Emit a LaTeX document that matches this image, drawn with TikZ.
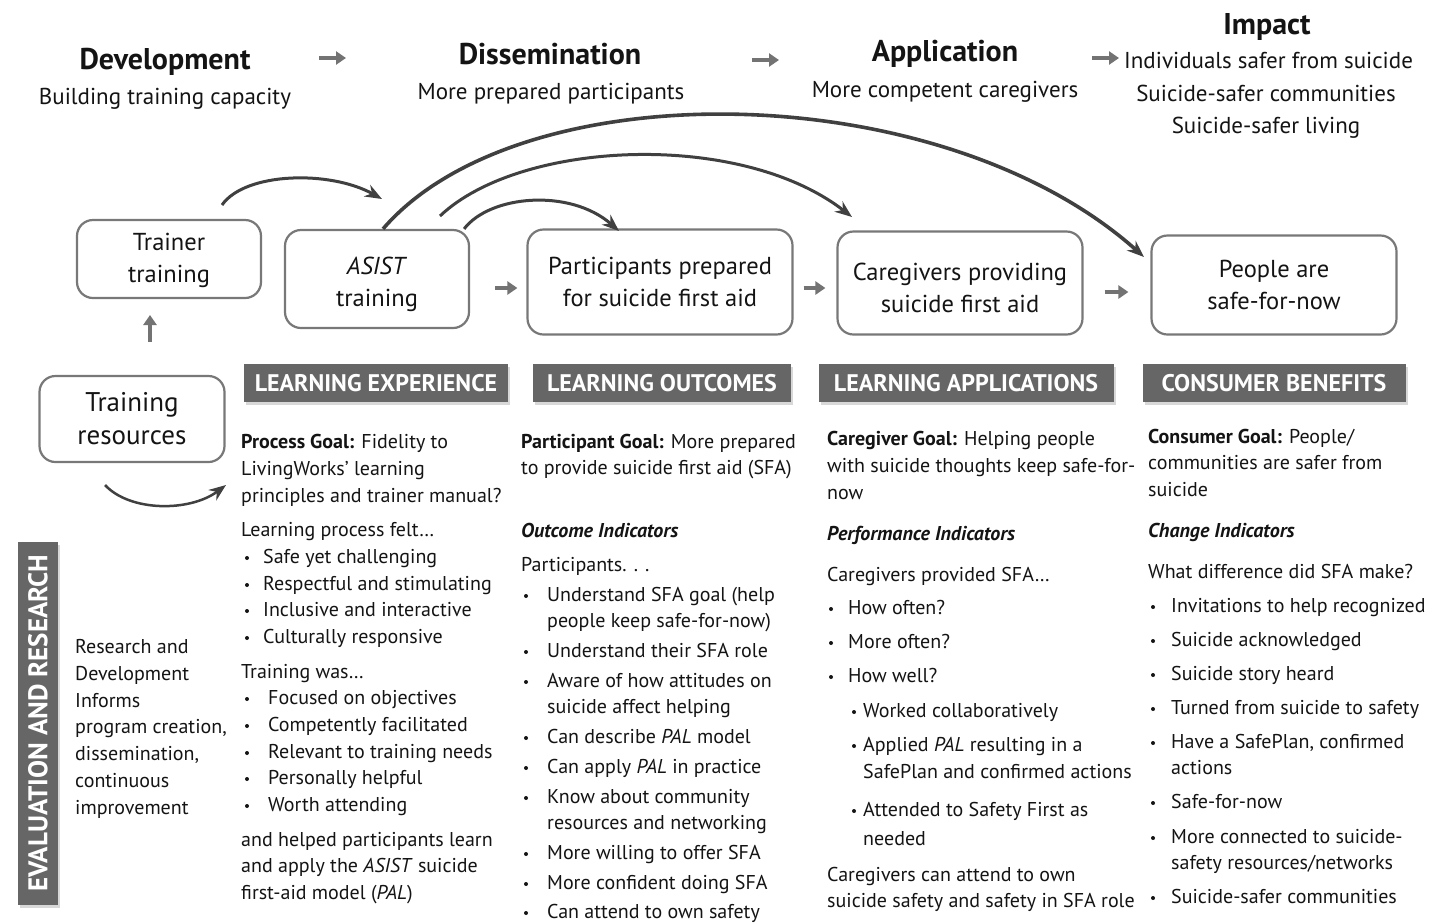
\documentclass[tikz,border=0pt]{standalone}
\usepackage{fontspec}
\setmainfont{PT Sans}
\usepackage{graphicx}
\usetikzlibrary{arrows.meta,calc,shadows}
\definecolor{ink}{gray}{0.08}
\definecolor{boxc}{gray}{0.47}
\definecolor{barc}{gray}{0.4}
\definecolor{arrc}{gray}{0.25}
\definecolor{garr}{gray}{0.45}
\newcommand\Ln[4]{\node[txt] (#1) at (#2,{#3+6}) {#4};}
\newcommand\Bl[5]{\node[bul] (#1b) at (#2,{#4+1}) {};\node[txt] (#1) at (#3,{#4+6}) {#5};}
\begin{document}
\begin{tikzpicture}[x=1pt,y=-1pt,
  txt/.style={anchor=base west,inner sep=0pt,text=ink,font=\fontsize{20}{24}\selectfont},
  bul/.style={circle,fill=ink,inner sep=0pt,minimum size=4pt},
  head/.style={anchor=base,inner sep=0pt,text=ink,font=\fontsize{30}{32}\selectfont\bfseries},
  sub/.style={anchor=base,inner sep=0pt,text=ink,font=\fontsize{23}{26}\selectfont},
  rbox/.style={draw=boxc,line width=2.2pt,rounded corners=16pt,fill=white,align=center,text=ink,
    font=\fontsize{24.5}{32}\selectfont,inner sep=0pt},
  bar/.style={fill=barc,text=white,font=\fontsize{24}{26}\selectfont\bfseries,inner sep=0pt,
    minimum height=38pt,drop shadow={shadow xshift=2pt,shadow yshift=-3pt,opacity=0.3}},
  carrow/.style={draw=arrc,line width=3pt,-{Stealth[length=17pt,width=13pt]}},
  garrow/.style={draw=garr,line width=3.5pt,-{Triangle[length=10pt,width=13pt]}}
]
\useasboundingbox[fill=white] (0,0) rectangle (1445,922);

% top headings
\node[head] (dev) at (165,69) {Development};
\node[sub] (devs) at (165,104) {Building training capacity};
\node[head] (dis) at (550,64) {Dissemination};
\node[sub] (diss) at (551,99) {More prepared participants};
\node[head] (app) at (945,61) {Application};
\node[sub] (apps) at (945,97) {More competent caregivers};
\node[head] (imp) at (1267,34) {Impact};
\node[sub,anchor=base west] (imp1) at (1124,68) {Individuals safer from suicide};
\node[sub] (imp2) at (1266,101) {Suicide-safer communities};
\node[sub] (imp3) at (1266,133) {Suicide-safer living};
\coordinate (ta1) at (319,58); \coordinate (ta2) at (346,58);
\coordinate (tb1) at (752,60); \coordinate (tb2) at (779,60);
\coordinate (tc1) at (1092,58); \coordinate (tc2) at (1119,58);
\draw[garrow] (ta1) -- (ta2);
\draw[garrow] (tb1) -- (tb2);
\draw[garrow] (tc1) -- (tc2);

% boxes
\node[rbox,minimum width=184pt,minimum height=78pt] (trainer) at (169,259) {\rule{0pt}{21pt}Trainer\\training};
\node[rbox,minimum width=184pt,minimum height=98pt] (asist) at (377,279) {\rule{0pt}{28pt}\textit{ASIST}\\training};
\node[rbox,minimum width=265pt,minimum height=105pt] (part) at (660,282) {Participants prepared\\for suicide first aid};
\node[rbox,minimum width=245pt,minimum height=103pt] (care) at (960,283) {\rule{0pt}{28pt}Caregivers providing\\suicide first aid};
\node[rbox,minimum width=245pt,minimum height=99pt] (people) at (1274,285) {People are\\safe-for-now};
\node[rbox,minimum width=185pt,minimum height=86pt,font=\fontsize{27}{33}\selectfont] (res) at (132,419) {Training\\resources};

% small gray arrows between boxes
\draw[garrow,shorten <=25pt,shorten >=9pt] ([yshift=-9pt]asist.east) -- ([yshift=-6pt]part.west);
\draw[garrow,shorten <=10pt,shorten >=11pt] ([yshift=-6pt]part.east) -- ([yshift=-5pt]care.west);
\draw[garrow,shorten <=21pt,shorten >=22pt] ([yshift=-9pt]care.east) -- ([yshift=-7pt]people.west);
\coordinate (up1) at (150,342); \coordinate (up2) at (150,315);
\draw[garrow] (up1) -- (up2);

% curved arrows
\coordinate (c1s) at (222,205); \coordinate (c1e) at (382,199);
\draw[carrow] (c1s) .. controls (245,172) and (330,170) .. (c1e);
\coordinate (c2s) at ($(asist.north)+(6,0)$); \coordinate (c2e) at (1144,257);
\draw[carrow,line width=3.6pt] (c2s) .. controls (520,70) and (940,75) .. (c2e);
\coordinate (c3s) at (440,216); \coordinate (c3e) at (852,217);
\draw[carrow] (c3s) .. controls (520,140) and (740,130) .. (c3e);
\coordinate (c4s) at ($(asist.north east)+(-6,0)$); \coordinate (c4e) at (619,231);
\draw[carrow] (c4s) .. controls (490,195) and (570,188) .. (c4e);
\coordinate (c5s) at (105,485); \coordinate (c5e) at (226,485);
\draw[carrow,line width=2.5pt] (c5s) .. controls (130,512) and (190,512) .. (c5e);

% section bars
\node[bar,minimum width=264pt] (le) at (376,383) {LEARNING EXPERIENCE};
\node[bar,minimum width=258pt] (lo) at (662,383) {LEARNING OUTCOMES};
\node[bar,minimum width=295pt] (la) at (966,383) {LEARNING APPLICATIONS};
\node[bar,minimum width=263pt] (cb) at (1274,383) {CONSUMER BENEFITS};
\node[bar,minimum width=363pt,minimum height=40pt,rotate=90,font=\fontsize{27}{28}\selectfont\bfseries] (er) at (38,723) {EVALUATION AND RESEARCH};

% left text
\Ln{r1}{75}{647}{Research and}
\Ln{r2}{75}{674}{Development}
\Ln{r3}{75}{701}{Informs}
\Ln{r4}{75}{727}{program creation,}
\Ln{r5}{75}{754}{dissemination,}
\Ln{r6}{75}{781}{continuous}
\Ln{r7}{75}{808}{improvement}

% column 1
\Ln{a1}{241}{442}{\textbf{Process Goal:} Fidelity to}
\Ln{a2}{241}{469}{LivingWorks’ learning}
\Ln{a3}{241}{496}{principles and trainer manual?}
\Ln{a4}{241}{530}{Learning process felt…}
\Bl{a5}{247}{263}{557}{Safe yet challenging}
\Bl{a6}{247}{263}{584}{Respectful and stimulating}
\Bl{a7}{247}{263}{610}{Inclusive and interactive}
\Bl{a8}{247}{263}{637}{Culturally responsive}
\Ln{a9}{241}{672}{Training was…}
\Bl{a10}{247}{268}{698}{Focused on objectives}
\Bl{a11}{247}{268}{725}{Competently facilitated}
\Bl{a12}{247}{268}{752}{Relevant to training needs}
\Bl{a13}{247}{268}{778}{Personally helpful}
\Bl{a14}{247}{268}{805}{Worth attending}
\Ln{a15}{241}{840}{and helped participants learn}
\Ln{a16}{241}{866}{and apply the \textit{ASIST} suicide}
\Ln{a17}{241}{893}{first-aid model (\textit{PAL})}

% column 2
\Ln{b1}{521}{442}{\textbf{Participant Goal:} More prepared}
\Ln{b2}{521}{468}{to provide suicide first aid (SFA)}
\Ln{b3}{521}{531}{\textbf{\textit{Outcome Indicators}}}
\Ln{b4}{521}{565}{Participants. . .}
\Bl{b5}{526}{547}{595}{Understand SFA goal (help}
\Ln{b6}{547}{621}{people keep safe-for-now)}
\Bl{b7}{526}{547}{651}{Understand their SFA role}
\Bl{b8}{526}{547}{681}{Aware of how attitudes on}
\Ln{b9}{547}{707}{suicide affect helping}
\Bl{b10}{526}{547}{737}{Can describe \textit{PAL} model}
\Bl{b11}{526}{547}{767}{Can apply \textit{PAL} in practice}
\Bl{b12}{526}{547}{797}{Know about community}
\Ln{b13}{547}{823}{resources and networking}
\Bl{b14}{526}{547}{853}{More willing to offer SFA}
\Bl{b15}{526}{547}{883}{More confident doing SFA}
\Bl{b16}{526}{547}{912}{Can attend to own safety}

% column 3
\Ln{c1}{827}{439}{\textbf{Caregiver Goal:} Helping people}
\Ln{c2}{827}{466}{with suicide thoughts keep safe-for-}
\Ln{c3}{827}{493}{now}
\Ln{c4}{827}{534}{\textbf{\textit{Performance Indicators}}}
\Ln{c5}{827}{575}{Caregivers provided SFA…}
\Bl{c6}{831}{848}{608}{How often?}
\Bl{c7}{831}{848}{642}{More often?}
\Bl{c8}{831}{848}{676}{How well?}
\Bl{c9}{854}{863}{711}{Worked collaboratively}
\Bl{c10}{854}{863}{745}{Applied \textit{PAL} resulting in a}
\Ln{c11}{863}{772}{SafePlan and confirmed actions}
\Bl{c12}{854}{863}{810}{Attended to Safety First as}
\Ln{c13}{863}{839}{needed}
\Ln{c14}{827}{875}{Caregivers can attend to own}
\Ln{c15}{827}{901}{suicide safety and safety in SFA role}

% column 4
\Ln{d1}{1148}{437}{\textbf{Consumer Goal:} People/}
\Ln{d2}{1148}{463}{communities are safer from}
\Ln{d3}{1148}{490}{suicide}
\Ln{d4}{1148}{531}{\textbf{\textit{Change Indicators}}}
\Ln{d5}{1148}{572}{What difference did SFA make?}
\Bl{d6}{1153}{1171}{606}{Invitations to help recognized}
\Bl{d7}{1153}{1171}{640}{Suicide acknowledged}
\Bl{d8}{1153}{1171}{674}{Suicide story heard}
\Bl{d9}{1153}{1171}{708}{Turned from suicide to safety}
\Bl{d10}{1153}{1171}{742}{Have a SafePlan, confirmed}
\Ln{d11}{1171}{768}{actions}
\Bl{d12}{1153}{1171}{802}{Safe-for-now}
\Bl{d13}{1153}{1171}{837}{More connected to suicide-}
\Ln{d14}{1171}{863}{safety resources/networks}
\Bl{d15}{1153}{1171}{897}{Suicide-safer communities}
\end{tikzpicture}
\end{document}
